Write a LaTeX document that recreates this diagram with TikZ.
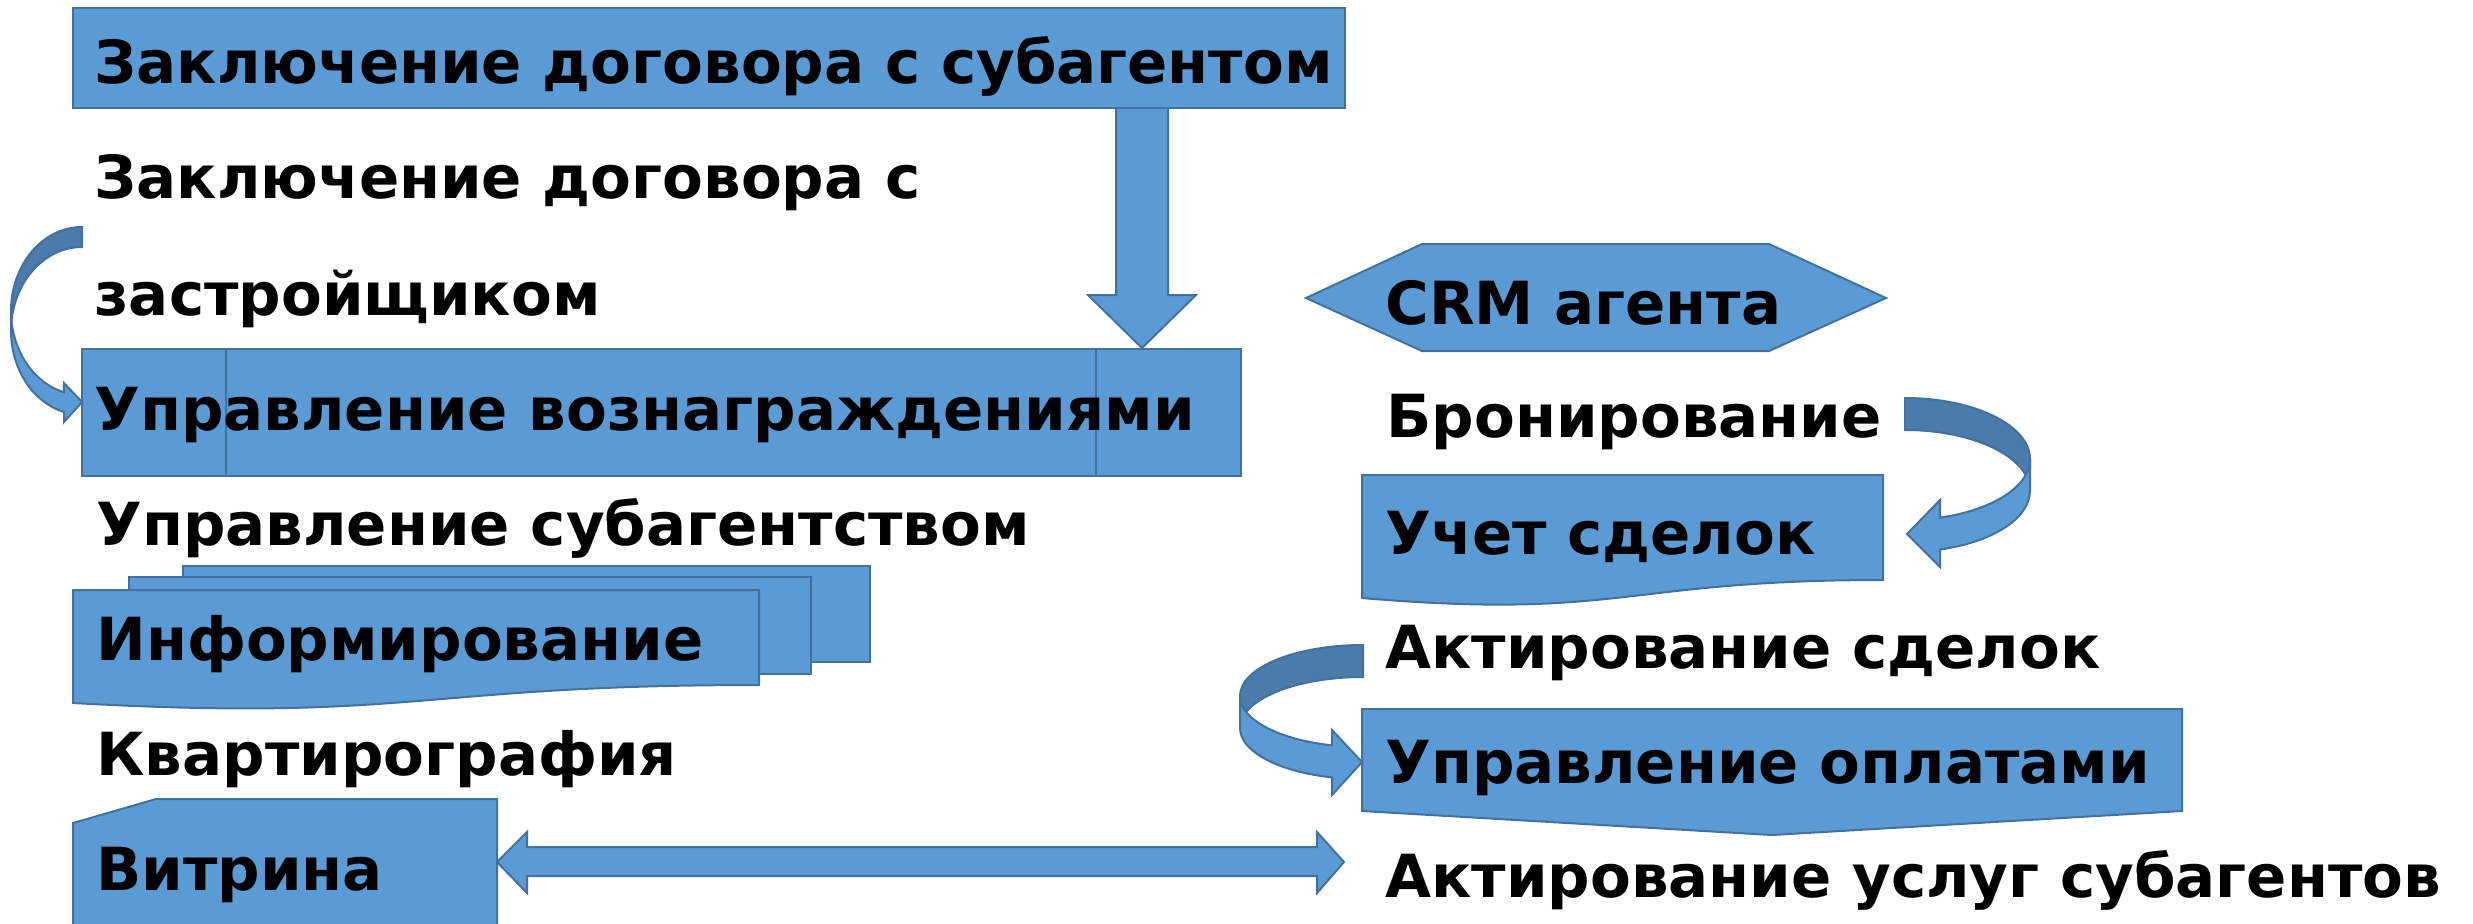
\documentclass[tikz,border=0pt]{standalone}
\usepackage{fontspec}
\setmainfont{DejaVu Sans}
\definecolor{boxblue}{HTML}{5B9BD5}
\definecolor{boxline}{HTML}{41719C}
\definecolor{banddark}{HTML}{4A7BAB}
\tikzset{
  blockshape/.style={fill=boxblue,draw=boxline,line width=1pt},
  bandback/.style={fill=banddark,draw=boxline,line width=1pt},
  itemtext/.style={anchor=base west,inner sep=0pt,font=\bfseries\fontsize{29.7pt}{35pt}\selectfont}
}
\begin{document}
\begin{tikzpicture}[x=0.5pt,y=-0.5pt,line join=miter]
\useasboundingbox (0,0) rectangle (2473,923);
% left column
\draw[blockshape] (1116,104) -- (1116,295) -- (1088,295) -- (1142,348) -- (1196,295) -- (1168,295) -- (1168,104) -- cycle;
\draw[blockshape] (73,8) rectangle (1345,108);
\draw[blockshape] (82,349) rectangle (1241,476);
\draw[boxline,line width=1pt] (226,349) -- (226,476) (1096,349) -- (1096,476);
\draw[bandback] (82,227) arc[start angle=270,end angle=180,x radius=71,y radius=84] -- (11,331)
  arc[start angle=180,end angle=270,x radius=71,y radius=84] -- cycle;
\draw[blockshape] (11,311) arc[start angle=180,end angle=104.7,x radius=71,y radius=84] -- (64,383) -- (82,402) -- (64,422) -- (64,412)
  arc[start angle=104.7,end angle=180,x radius=71,y radius=84] -- cycle;
\draw[blockshape] (183,566) rectangle (870,662);
\draw[blockshape] (129,577) rectangle (811,674);
\draw[blockshape] (73,590) -- (759,590) -- (759,685) .. controls (416,685) and (416,722) .. (73,703) -- cycle;
\draw[blockshape] (73,823) -- (156,799) -- (497,799) -- (497,935) -- (73,935) -- cycle;
\draw[blockshape] (497,862) -- (527,832) -- (527,847) -- (1317,847) -- (1317,832) -- (1344,862) -- (1317,893) -- (1317,876) -- (527,876) -- (527,893) -- cycle;
% right column
\draw[blockshape] (1306,298) -- (1422,244) -- (1769,244) -- (1886,298) -- (1769,351) -- (1422,351) -- cycle;
\draw[bandback] (1905,398) arc[start angle=270,end angle=360,x radius=125,y radius=61] -- (2030,491)
  arc[start angle=360,end angle=270,x radius=125,y radius=61] -- cycle;
\draw[blockshape] (2030,459) arc[start angle=0,end angle=73.7,x radius=125,y radius=61] -- (1940,500) -- (1907,534) -- (1940,567) -- (1940,549.5)
  arc[start angle=73.7,end angle=0,x radius=125,y radius=61] -- cycle;
\draw[blockshape] (1362,475) -- (1883,475) -- (1883,580) .. controls (1622,580) and (1622,620) .. (1362,598) -- cycle;
\draw[bandback] (1363,645) arc[start angle=270,end angle=180,x radius=123,y radius=51] -- (1240,728)
  arc[start angle=180,end angle=270,x radius=123,y radius=51] -- cycle;
\draw[blockshape] (1240,696) arc[start angle=180,end angle=104.6,x radius=123,y radius=51] -- (1332,730) -- (1362,762) -- (1332,795) -- (1332,777.4)
  arc[start angle=104.6,end angle=180,x radius=123,y radius=51] -- cycle;
\draw[blockshape] (1362,709) -- (2182,709) -- (2182,811) -- (1772,835) -- (1362,811) -- cycle;
% texts
\node[itemtext] (subagent) at (94,83) {Заключение договора с субагентом};
\node[itemtext] (builder1) at (94,198) {Заключение договора с};
\node[itemtext] (builder2) at (94,315) {застройщиком};
\node[itemtext] (reward) at (94,430) {Управление вознаграждениями};
\node[itemtext] (subagency) at (96,545) {Управление субагентством};
\node[itemtext] (inform) at (96,660) {Информирование};
\node[itemtext] (flats) at (96,775) {Квартирография};
\node[itemtext] (showcase) at (96,890) {Витрина};
\node[itemtext] (crm) at (1385,324) {CRM агента};
\node[itemtext] (booking) at (1386,437) {Бронирование};
\node[itemtext] (deals) at (1385,554) {Учет сделок};
\node[itemtext] (dealacts) at (1385,668) {Актирование сделок};
\node[itemtext] (payments) at (1385,783) {Управление оплатами};
\node[itemtext] (serviceacts) at (1385,897) {Актирование услуг субагентов};
\end{tikzpicture}
\end{document}
